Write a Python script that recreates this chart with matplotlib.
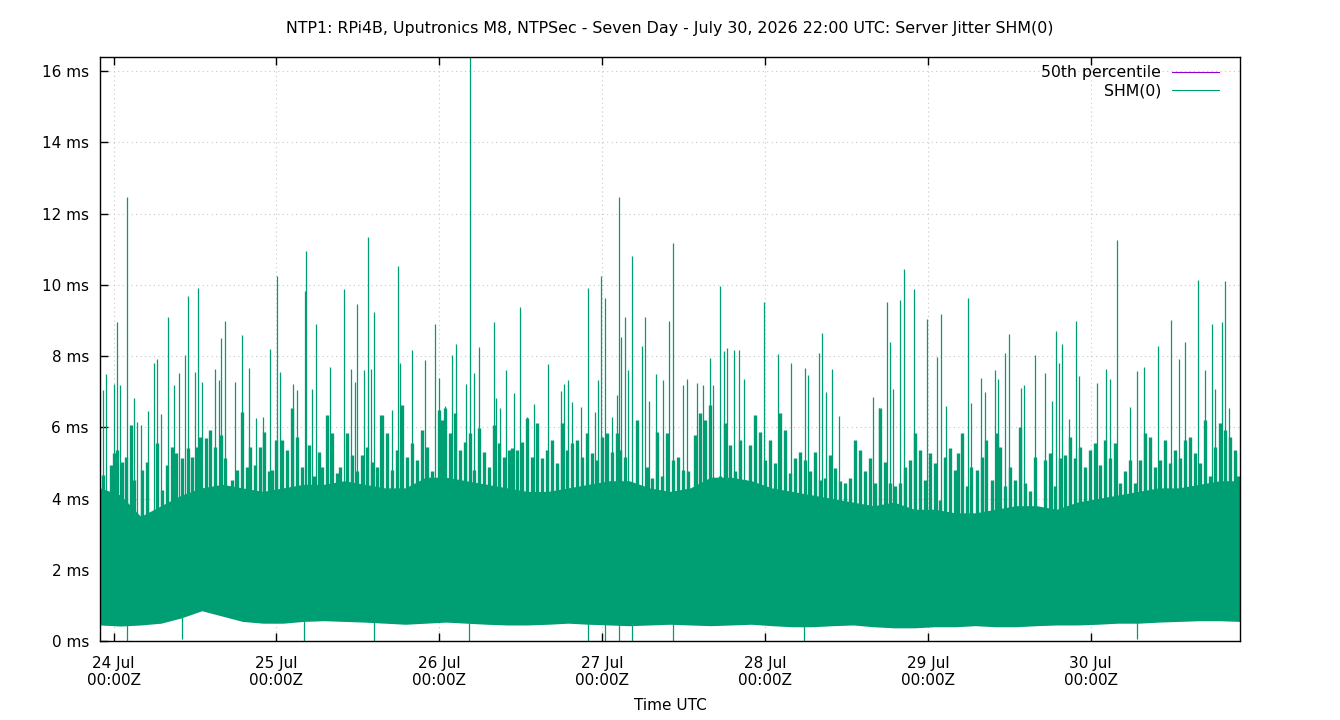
import numpy as np
import matplotlib
matplotlib.use("Agg")
import matplotlib.pyplot as plt
from matplotlib.lines import Line2D
from datetime import datetime, timedelta

# ---------------- data (hours since 2026-07-24 00:00 UTC, values in ms) ----------------
title = "NTP1: RPi4B, Uputronics M8, NTPSec - Seven Day - July 30, 2026 22:00 UTC: Server Jitter SHM(0)"
start_hour = -2.0
end_hour = 166.0
day_ticks = [0, 24, 48, 72, 96, 120, 144]
y_ticks = [0, 2, 4, 6, 8, 10, 12, 14, 16]
y_max = 16.4
percentile_50 = 1.9

# dense core of the SHM(0) jitter trace (sampled every 3 h)
core_hours = list(range(-2, 167, 3))
core_top = [4.3, 4.1, 3.5, 3.8, 4.1, 4.3, 4.4, 4.3, 4.2, 4.3, 4.4, 4.4, 4.5, 4.4, 4.3,
            4.3, 4.6, 4.6, 4.5, 4.4, 4.3, 4.2, 4.2, 4.3, 4.4, 4.5, 4.5, 4.3, 4.2, 4.3,
            4.6, 4.6, 4.5, 4.3, 4.2, 4.1, 4.0, 3.9, 3.8, 3.9, 3.7, 3.7, 3.6, 3.6, 3.7,
            3.8, 3.8, 3.7, 3.9, 4.0, 4.1, 4.2, 4.3, 4.3, 4.4, 4.5, 4.5]
core_bottom = [0.45, 0.42, 0.45, 0.50, 0.65, 0.85, 0.70, 0.55, 0.50, 0.50, 0.55, 0.57, 0.55, 0.53, 0.50,
               0.47, 0.50, 0.53, 0.50, 0.47, 0.45, 0.45, 0.47, 0.50, 0.47, 0.45, 0.43, 0.45, 0.47, 0.45,
               0.43, 0.45, 0.47, 0.43, 0.40, 0.40, 0.43, 0.45, 0.40, 0.37, 0.37, 0.40, 0.40, 0.43, 0.40,
               0.40, 0.43, 0.45, 0.45, 0.47, 0.50, 0.50, 0.53, 0.55, 0.57, 0.57, 0.55]

# large spikes
big_hours = [0.44, 1.91, 8.05, 10.90, 12.37, 15.90, 16.45, 18.99, 24.03, 28.27, 28.42, 29.89,
             33.97, 35.93, 37.50, 38.43, 41.92, 47.41, 50.46, 52.46, 53.89, 56.00, 59.93,
             69.94, 71.90, 72.49, 74.55, 74.84, 75.43, 76.46, 77.93, 78.29, 81.91, 82.45,
             89.42, 90.41, 95.90, 104.44, 113.92, 114.41, 115.92, 116.42, 117.90, 119.90,
             121.87, 125.94, 131.97, 138.85, 139.83, 141.89, 147.87, 153.91, 155.83, 157.89,
             159.86, 161.82, 163.33, 163.84]
big_ms = [8.97, 12.48, 9.10, 9.70, 9.92, 8.50, 9.00, 8.60, 10.26, 9.84, 10.95, 8.90,
          9.89, 9.47, 11.35, 9.25, 10.53, 8.90, 8.33, 17.0, 8.27, 8.97, 9.38,
          9.92, 10.25, 9.63, 12.46, 8.53, 9.11, 10.80, 8.29, 9.10, 8.99, 11.18,
          9.96, 8.24, 9.53, 8.64, 9.51, 8.41, 9.58, 10.46, 9.89, 9.04,
          9.18, 9.63, 8.61, 8.71, 8.34, 8.99, 11.25, 8.29, 9.01, 8.39,
          10.14, 8.89, 8.95, 10.11]

# medium spikes
mid_hours = [-1.58, -1.07, 0.04, 0.93, 2.99, 3.49, 3.98, 5.05, 5.93, 6.43, 6.92, 8.88, 9.61, 10.50,
             11.97, 12.96, 14.92, 15.50, 17.86, 19.92, 21.01, 21.98, 23.01, 24.49, 26.46, 27.05,
             29.26, 31.95, 35.00, 35.53, 36.85, 37.88, 39.31, 40.98, 42.26, 43.92, 45.94, 47.96,
             48.88, 49.87, 51.98, 53.05, 56.35, 56.98, 57.87, 58.94, 60.91, 61.99, 63.95, 65.92,
             66.45, 66.95, 67.54, 68.86, 70.93, 71.41, 73.47, 74.16, 75.83, 78.97, 79.95, 80.94,
             83.88, 84.47, 85.94, 86.91, 87.90, 88.39, 90.01, 91.48, 92.22, 92.95, 97.87, 99.87,
             101.89, 102.37, 103.91, 104.94, 105.91, 106.94, 111.86, 112.83, 114.85, 121.37,
             122.65, 126.43, 127.85, 128.44, 129.87, 130.31, 131.38, 133.74, 134.24, 135.76,
             137.33, 138.36, 139.33, 140.80, 142.28, 144.93, 146.31, 146.90, 149.85, 150.88,
             151.85, 157.00, 160.79, 162.30, 164.32, 165.45]
mid_ms = [7.04, 7.51, 7.21, 7.19, 6.82, 6.16, 6.07, 6.47, 7.80, 7.91, 6.37, 7.19, 7.53, 8.03,
          7.56, 7.27, 7.65, 7.32, 7.27, 7.68, 6.26, 6.28, 8.19, 7.56, 7.23, 7.04,
          7.08, 7.70, 7.65, 7.27, 7.62, 7.65, 6.36, 6.50, 7.80, 8.17, 7.89, 7.39,
          6.60, 8.03, 7.23, 7.52, 6.82, 6.54, 7.62, 6.96, 6.28, 6.66, 7.78, 7.03,
          7.22, 7.33, 6.72, 6.56, 6.44, 7.33, 6.29, 6.92, 7.62, 6.74, 7.50, 7.33,
          7.19, 7.35, 7.25, 7.19, 7.94, 7.19, 8.13, 8.18, 8.16, 7.35, 8.06, 7.81,
          7.68, 7.48, 8.08, 7.00, 7.65, 6.33, 6.84, 6.54, 7.09, 7.98,
          6.60, 6.67, 7.39, 6.99, 7.60, 7.37, 8.10, 7.11, 7.20, 8.03,
          7.54, 6.75, 7.80, 6.23, 7.43, 7.25, 7.65, 7.35, 6.56, 7.58,
          7.70, 7.91, 7.62, 7.08, 6.54, 5.28]

# small spikes just above the dense core
small_hours = [-1.52, -0.44, 0.04, 0.44, 1.28, 1.77, 2.50, 2.99, 4.23, 4.96, 6.43, 7.17, 7.91, 8.54,
               9.13, 10.12, 10.94, 11.59, 12.32, 12.81, 13.55, 14.28, 15.02, 15.76, 16.49, 17.48,
               18.21, 18.95, 19.69, 20.17, 20.91, 21.54, 22.13, 22.87, 23.37, 24.00, 24.84, 25.58,
               26.31, 27.05, 27.78, 28.76, 29.49, 30.23, 30.73, 31.47, 32.20, 32.94, 33.42, 34.41,
               35.15, 35.88, 36.62, 37.35, 38.09, 38.83, 39.56, 40.30, 41.04, 41.77, 42.51, 43.24,
               43.98, 44.72, 45.45, 46.19, 46.93, 47.90, 48.40, 48.88, 49.62, 50.36, 51.09, 51.83,
               52.57, 53.05, 53.79, 54.52, 55.26, 56.00, 56.73, 57.47, 58.20, 58.70, 59.44, 60.18,
               60.91, 61.65, 62.39, 63.12, 63.86, 64.59, 65.33, 66.07, 66.80, 67.54, 68.27, 69.01,
               69.75, 70.48, 71.22, 71.95, 72.69, 73.43, 74.16, 74.65, 75.39, 76.37, 77.11, 77.84,
               78.58, 79.32, 80.05, 80.79, 81.53, 82.26, 82.50, 83.24, 83.97, 84.71, 85.69, 86.43,
               87.17, 87.90, 88.64, 89.37, 90.11, 90.85, 91.58, 92.32, 93.06, 93.79, 94.53, 95.27,
               96.00, 96.74, 97.47, 98.21, 98.95, 99.68, 100.42, 101.16, 101.89, 102.63, 103.36,
               104.10, 104.84, 105.57, 106.31, 107.05, 107.78, 108.52, 109.25, 109.99, 110.73,
               111.46, 112.20, 112.93, 113.67, 114.41, 115.14, 115.88, 116.61, 117.35, 118.09,
               118.82, 119.56, 120.30, 121.03, 121.77, 122.50, 123.24, 123.98, 124.46, 124.96,
               125.70, 126.43, 127.17, 127.91, 128.64, 129.38, 130.12, 130.60, 131.34, 132.07,
               132.81, 133.55, 134.28, 135.02, 135.76, 136.49, 137.23, 137.96, 138.70, 139.44,
               140.17, 140.91, 141.64, 142.38, 143.12, 143.85, 144.59, 145.33, 146.06, 146.80,
               147.54, 148.27, 149.01, 149.74, 150.48, 151.22, 151.95, 152.69, 153.42, 154.16,
               154.90, 155.63, 156.37, 157.11, 157.84, 158.58, 159.31, 160.05, 160.79, 161.52,
               162.26, 163.00, 163.73, 164.47, 165.21, 165.65]
small_ms = [4.66, 4.95, 5.27, 5.37, 5.04, 5.18, 6.07, 4.52, 4.80, 5.04, 5.55, 4.24, 4.95, 5.46,
            5.27, 5.13, 5.41, 5.18, 5.46, 5.74, 5.69, 5.93, 5.46, 5.79, 5.13, 4.52,
            4.80, 6.44, 4.90, 5.46, 4.95, 5.46, 5.88, 4.76, 4.80, 5.65, 5.65, 5.37,
            6.54, 5.74, 4.90, 5.51, 4.62, 5.32, 4.90, 6.35, 5.83, 4.71, 4.90, 5.83,
            5.23, 4.76, 5.23, 5.46, 5.04, 4.90, 6.35, 5.83, 4.80, 5.37, 6.63, 5.18,
            5.55, 5.09, 5.93, 5.46, 4.76, 6.49, 6.21, 6.54, 5.83, 6.40, 5.37, 5.60,
            5.83, 4.80, 5.97, 5.32, 4.90, 6.07, 5.55, 5.18, 5.37, 5.41, 5.37, 5.60,
            6.26, 5.18, 6.12, 5.13, 5.37, 5.65, 4.99, 6.12, 5.37, 5.55, 5.65, 5.18,
            5.83, 5.27, 5.09, 5.74, 5.83, 5.32, 5.83, 5.37, 5.18, 3.96, 6.21, 3.96,
            4.90, 4.57, 5.88, 4.62, 5.83, 3.96, 5.09, 5.18, 4.80, 4.76, 5.79, 6.40,
            6.21, 6.63, 4.52, 4.62, 6.12, 5.51, 4.76, 5.65, 4.52, 5.51, 6.35, 5.88,
            5.09, 5.65, 4.99, 6.40, 5.93, 4.71, 5.13, 5.32, 5.09, 4.76, 5.32,
            4.52, 4.57, 5.23, 4.85, 4.48, 4.43, 4.57, 5.65, 5.37, 4.76,
            5.13, 4.43, 6.54, 5.04, 4.43, 4.34, 4.43, 4.90, 5.09, 5.83,
            5.37, 4.52, 5.27, 4.99, 3.96, 5.18, 5.41, 4.80, 5.27, 5.83,
            4.34, 4.90, 4.80, 5.18, 5.65, 4.52, 5.83, 5.46, 4.34, 4.90,
            4.52, 6.02, 4.43, 4.20, 5.18, 3.68, 5.09, 5.27, 4.34, 5.13,
            5.23, 5.74, 5.13, 5.46, 4.90, 5.37, 5.55, 4.95, 5.65, 5.13,
            5.55, 4.43, 4.76, 5.09, 4.43, 5.09, 5.83, 5.74, 4.90, 5.09,
            5.65, 4.99, 5.37, 5.13, 5.65, 5.74, 5.27, 4.99, 6.21, 4.62,
            5.46, 6.12, 5.93, 5.74, 5.37, 4.62]

# samples that drop to (near) zero
dip_hours = [1.91, 10.12, 28.12, 38.43, 52.42, 69.94, 72.44, 74.50, 76.42, 82.45, 101.74, 150.77]
dip_ms = [0.0, 0.05, 0.0, 0.0, 0.0, 0.0, 0.0, 0.0, 0.0, 0.0, 0.0, 0.05]

# ---------------- drawing ----------------
GREEN = "#009e73"
PURPLE = "#9400d3"
base_date = datetime(2026, 7, 24)

fig = plt.figure(figsize=(13.4, 7.2), dpi=100)
ax = fig.add_axes([100 / 1340, 1 - 641 / 720, 1140 / 1340, (641 - 57) / 720])

ax.axhline(percentile_50, color=PURPLE, lw=0.8, zorder=1)
ax.fill_between(core_hours, core_bottom, core_top, color=GREEN, lw=0, zorder=2)
ax.vlines(small_hours, 1.0, small_ms, color=GREEN, lw=2.4, zorder=3)
ax.vlines(mid_hours, 1.0, mid_ms, color=GREEN, lw=0.9, zorder=3)
ax.vlines(big_hours, 1.0, big_ms, color=GREEN, lw=0.9, zorder=3)
ax.vlines(dip_hours, dip_ms, 1.0, color=GREEN, lw=0.9, zorder=3)

ax.set_xlim(start_hour, end_hour)
ax.set_ylim(0, y_max)
ax.set_xticks(day_ticks)
ax.set_xticklabels([(base_date + timedelta(hours=h)).strftime("%d %b\n%H:%MZ") for h in day_ticks])
ax.set_yticks(y_ticks)
ax.set_yticklabels([f"{v} ms" for v in y_ticks])
ax.tick_params(axis="both", direction="in", length=6, width=1, labelsize=11, colors="black")
ax.tick_params(axis="x", top=True, pad=10.5)
ax.tick_params(axis="y", pad=8)
ax.grid(True, color="#c8c8c8", linestyle=(0, (1, 3)), linewidth=0.8, zorder=0)
ax.set_axisbelow(True)
for sp in ax.spines.values():
    sp.set_linewidth(1.0)
    sp.set_color("black")
    sp.set_zorder(5)

fig.text(0.5, 1 - 29 / 720, title, ha="center", va="center", fontsize=11.4)
fig.text(0.5, 1 - 706 / 720, "Time UTC", ha="center", va="center", fontsize=11)

handles = [Line2D([], [], color=PURPLE, lw=0.8), Line2D([], [], color=GREEN, lw=0.8)]
fig.legend(handles, ["50th percentile", "SHM(0)"], loc="upper right",
           bbox_to_anchor=(1219 / 1340, 1 - 65 / 720), bbox_transform=fig.transFigure,
           markerfirst=False, frameon=False, handlelength=3.0, handletextpad=0.7,
           labelspacing=0.22, borderpad=0, borderaxespad=0, fontsize=11.3)

fig.savefig("out.png", dpi=100)
